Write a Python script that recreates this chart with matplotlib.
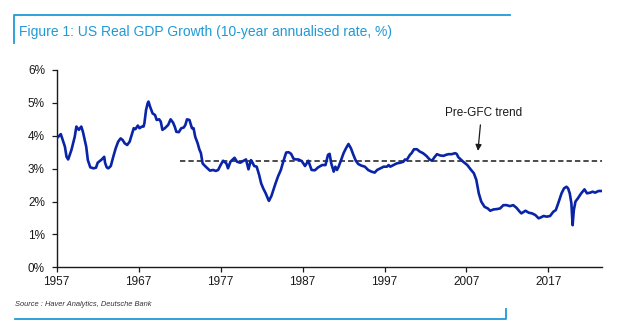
import matplotlib
matplotlib.use("Agg")
import matplotlib.pyplot as plt
from matplotlib.lines import Line2D
from matplotlib.ticker import FuncFormatter

# 10-year annualised US real GDP growth, %
YEARS = [
    1957.0, 1957.5, 1958.0, 1958.2, 1958.4, 1958.8, 1959.2, 1959.4, 1959.7, 1960.0,
    1960.2, 1960.6, 1960.8, 1961.1, 1961.5, 1961.8, 1962.0, 1962.5, 1962.8, 1962.9,
    1963.1, 1963.3, 1963.6, 1963.9, 1964.2, 1964.5, 1964.8, 1965.05, 1965.3, 1965.6,
    1965.9, 1966.15, 1966.4, 1966.6, 1966.9, 1967.1, 1967.4, 1967.6, 1967.7, 1967.9,
    1968.1, 1968.2, 1968.4, 1968.7, 1969.0, 1969.2, 1969.5, 1969.7, 1969.9, 1970.2,
    1970.6, 1970.9, 1971.2, 1971.4, 1971.6, 1971.9, 1972.2, 1972.5, 1972.7, 1972.9,
    1973.2, 1973.5, 1973.7, 1973.9, 1974.2, 1974.4, 1974.6, 1974.8, 1975.1, 1975.4,
    1975.7, 1976.1, 1976.4, 1976.7, 1977.0, 1977.3, 1977.7, 1977.9, 1978.2, 1978.4,
    1978.7, 1979.0, 1979.4, 1979.8, 1980.1, 1980.3, 1980.4, 1980.7, 1980.9, 1981.1,
    1981.4, 1981.7, 1981.95, 1982.2, 1982.5, 1982.8, 1982.9, 1983.2, 1983.5, 1983.7,
    1984.0, 1984.35, 1984.7, 1985.0, 1985.3, 1985.6, 1985.9, 1986.2, 1986.5, 1986.9,
    1987.3, 1987.7, 1988.1, 1988.5, 1988.9, 1989.4, 1989.8, 1990.1, 1990.3, 1990.5,
    1990.8, 1991.0, 1991.2, 1991.4, 1991.7, 1992.0, 1992.3, 1992.6, 1992.9, 1993.2,
    1993.5, 1993.8, 1994.2, 1994.6, 1995.0, 1995.4, 1995.8, 1996.1, 1996.5, 1996.9,
    1997.3, 1997.5, 1997.7, 1998.1, 1998.5, 1998.9, 1999.3, 1999.5, 1999.7, 2000.1,
    2000.3, 2000.6, 2000.95, 2001.3, 2001.7, 2002.1, 2002.5, 2002.8, 2003.1, 2003.4,
    2003.8, 2004.2, 2004.5, 2004.8, 2005.2, 2005.6, 2005.8, 2006.0, 2006.3, 2006.6,
    2007.1, 2007.5, 2007.9, 2008.2, 2008.5, 2008.8, 2009.2, 2009.6, 2009.9, 2010.3,
    2010.7, 2011.1, 2011.5, 2011.9, 2012.3, 2012.7, 2013.1, 2013.5, 2013.7, 2014.2,
    2014.6, 2015.0, 2015.4, 2015.8, 2016.1, 2016.4, 2016.8, 2017.2, 2017.6, 2017.9,
    2018.2, 2018.6, 2018.9, 2019.2, 2019.4, 2019.6, 2019.8, 2019.95, 2020.1, 2020.3,
    2020.6, 2021.0, 2021.4, 2021.7, 2022.1, 2022.4, 2022.7, 2023.1, 2023.5,
]
GROWTH = [
    3.92, 4.05, 3.67, 3.36, 3.28, 3.57, 3.97, 4.28, 4.18, 4.28,
    4.12, 3.67, 3.26, 3.04, 3.01, 3.03, 3.18, 3.28, 3.36, 3.18,
    3.04, 3.01, 3.08, 3.36, 3.62, 3.82, 3.92, 3.87, 3.77, 3.72,
    3.82, 4.02, 4.23, 4.20, 4.31, 4.23, 4.28, 4.28, 4.38, 4.78,
    4.99, 5.04, 4.88, 4.68, 4.63, 4.48, 4.50, 4.43, 4.18, 4.23,
    4.33, 4.50, 4.40, 4.28, 4.12, 4.11, 4.23, 4.25, 4.33, 4.50,
    4.48, 4.23, 4.23, 3.97, 3.77, 3.59, 3.47, 3.16, 3.08, 3.01,
    2.94, 2.96, 2.93, 2.96, 3.11, 3.24, 3.16, 3.01, 3.21, 3.26,
    3.33, 3.21, 3.18, 3.24, 3.28, 3.08, 2.98, 3.26, 3.18, 3.08,
    3.06, 2.81, 2.55, 2.40, 2.25, 2.07, 2.02, 2.17, 2.40, 2.55,
    2.76, 2.96, 3.26, 3.49, 3.50, 3.45, 3.30, 3.28, 3.28, 3.23,
    3.08, 3.24, 2.96, 2.95, 3.04, 3.11, 3.11, 3.42, 3.45, 3.16,
    2.91, 3.06, 2.96, 3.06, 3.26, 3.47, 3.62, 3.75, 3.62, 3.42,
    3.24, 3.14, 3.09, 3.06, 2.96, 2.91, 2.88, 2.96, 3.01, 3.06,
    3.06, 3.11, 3.06, 3.11, 3.16, 3.18, 3.21, 3.28, 3.26, 3.42,
    3.47, 3.59, 3.59, 3.52, 3.47, 3.39, 3.28, 3.24, 3.35, 3.44,
    3.40, 3.39, 3.42, 3.44, 3.44, 3.47, 3.45, 3.35, 3.28, 3.21,
    3.11, 2.98, 2.86, 2.66, 2.25, 2.00, 1.84, 1.79, 1.72, 1.76,
    1.77, 1.79, 1.89, 1.89, 1.86, 1.89, 1.81, 1.69, 1.64, 1.72,
    1.66, 1.64, 1.59, 1.49, 1.52, 1.56, 1.54, 1.56, 1.69, 1.74,
    1.95, 2.25, 2.40, 2.45, 2.40, 2.25, 1.95, 1.28, 1.74, 2.00,
    2.10, 2.25, 2.37, 2.25, 2.27, 2.30, 2.27, 2.32, 2.32,
]

TREND_START = 1972.0
TREND_VALUE = 3.23
XTICKS = [1957, 1967, 1977, 1987, 1997, 2007, 2017]
YTICKS = [0, 1, 2, 3, 4, 5, 6]

TITLE = "Figure 1: US Real GDP Growth (10-year annualised rate, %)"
SOURCE = "Source : Haver Analytics, Deutsche Bank"
DB_BLUE = "#1f9ad6"
LINE_BLUE = "#0a24a8"
INK = "#1a1a1a"

plt.rcParams["font.family"] = ["Liberation Sans", "DejaVu Sans"]

W, H = 640, 335
fig = plt.figure(figsize=(W / 100, H / 100), dpi=100)
ax = fig.add_axes([56.7 / W, 1 - 267.3 / H, (601.7 - 56.7) / W, (267.3 - 70) / H])

ax.plot(YEARS, GROWTH, color=LINE_BLUE, lw=1.9, solid_joinstyle="round", zorder=3)
ax.plot([TREND_START, YEARS[-1]], [TREND_VALUE, TREND_VALUE], color=INK,
        lw=1.1, ls=(0, (3.5, 2)), zorder=2)

# label and arrow pointing down at the trend line
ax.text(2009.05, 4.69, "Pre-GFC trend", ha="center", va="center",
        fontsize=8.5, color=INK)
ax.annotate("", xy=(2008.4, 3.54), xytext=(2008.7, 4.33),
            arrowprops=dict(arrowstyle="-|>", color=INK, lw=0.9,
                            mutation_scale=9, shrinkA=0, shrinkB=0))

ax.set_xlim(1957, YEARS[-1])
ax.set_ylim(0, 6)
ax.set_xticks(XTICKS)
ax.set_yticks(YTICKS)
ax.yaxis.set_major_formatter(FuncFormatter(lambda v, _: f"{v:.0f}%"))
ax.tick_params(direction="out", length=3.5, width=0.9, labelsize=8.5,
               colors=INK)
ax.tick_params(axis="y", pad=5)
ax.tick_params(axis="x", pad=3)
for side in ("top", "right"):
    ax.spines[side].set_visible(False)
for side in ("left", "bottom"):
    ax.spines[side].set_linewidth(1.0)
    ax.spines[side].set_color(INK)


def px_line(xs, ys):
    fig.add_artist(Line2D([x / W for x in xs], [1 - y / H for y in ys],
                          transform=fig.transFigure, color=DB_BLUE, lw=1.3))


# house-style frame around the figure
px_line([14, 14, 510], [43, 15, 15])
px_line([15, 506, 506], [319, 319, 309])

fig.text(19 / W, 1 - 36 / H, TITLE, color=DB_BLUE, fontsize=10,
         ha="left", va="baseline")
fig.text(15 / W, 1 - 305 / H, SOURCE, color="#333333", fontsize=5.4,
         style="italic", ha="left", va="center")

fig.savefig("out.png", dpi=100)
